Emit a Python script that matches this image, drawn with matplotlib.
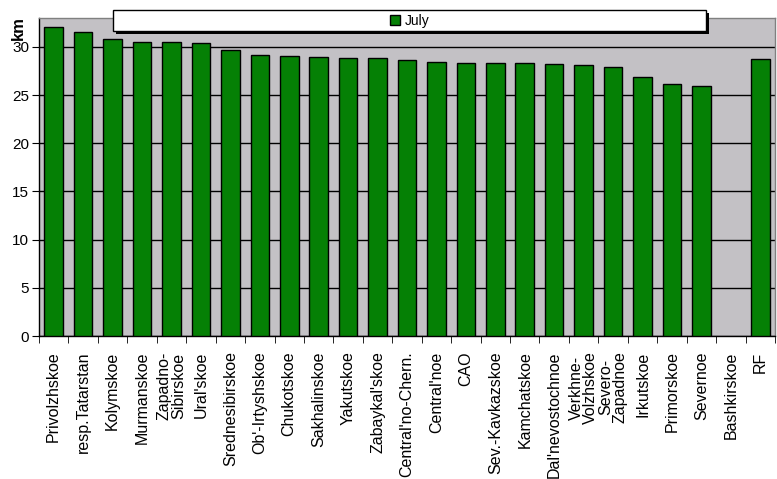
import numpy as np
import matplotlib
matplotlib.use("Agg")
import matplotlib.pyplot as plt
from matplotlib.patches import Rectangle

categories = ["Privolzhskoe", "resp.Tatarstan", "Kolymskoe", "Murmanskoe",
              "Zapadno-\nSibirskoe", "Ural'skoe", "Srednesibirskoe", "Ob'-Irtyshskoe",
              "Chukotskoe", "Sakhalinskoe", "Yakutskoe", "Zabaykal'skoe",
              "Central'no-Chern.", "Central'noe", "CAO", "Sev.-Kavkazskoe",
              "Kamchatskoe", "Dal'nevostochnoe", "Verkhne-\nVolzhskoe", "Severo-\nZapadnoe",
              "Irkutskoe", "Primorskoe", "Severnoe", "Bashkirskoe", "RF"]
july = [32.05, 31.5, 30.8, 30.5, 30.5, 30.4, 29.65, 29.2, 29.1, 29.0, 28.8, 28.8,
        28.6, 28.4, 28.3, 28.3, 28.3, 28.2, 28.1, 27.9, 26.9, 26.2, 25.9, np.nan, 28.7]
yticks = [0, 5, 10, 15, 20, 25, 30]

plt.rcParams['font.family'] = ['Liberation Sans', 'DejaVu Sans']

fig = plt.figure(figsize=(7.77, 4.79), dpi=100, facecolor='white')
ax = fig.add_axes([39/777, 1-336/479, (775-39)/777, (336-18)/479])
ax.set_facecolor('#c3c1c5')

x = np.arange(len(categories))
bars = ax.bar(x, july, width=0.63, color='#058005', edgecolor='black', linewidth=1.0,
              zorder=3, label='July')

ax.set_xlim(-0.5, len(categories) - 0.5)
ax.set_ylim(0, 33)
ax.set_yticks(yticks)
ax.set_yticklabels([str(v) for v in yticks], fontsize=11)
ax.yaxis.grid(True, color='black', linewidth=1.0, zorder=1)
ax.set_axisbelow(True)

ax.set_xticks(x)
ax.set_xticklabels(categories, rotation=90, fontsize=11.5, va='top', ha='center',
                   linespacing=0.95)
ax.tick_params(axis='x', length=0, pad=11)
ax.set_xticks(np.arange(len(categories) + 1) - 0.5, minor=True)
ax.tick_params(axis='x', which='minor', length=5, direction='out', color='black')
ax.tick_params(axis='y', length=5, direction='out', color='black', pad=2)

for s in ['left', 'bottom']:
    ax.spines[s].set_color('black')
    ax.spines[s].set_linewidth(1.0)
for s in ['top', 'right']:
    ax.spines[s].set_color('#808080')
    ax.spines[s].set_linewidth(1.0)

fig.text(18/777, 1-28/479, 'km', rotation=90, fontsize=12, fontweight='bold',
         ha='center', va='center')

# legend box with shadow
lx0, lx1, ly0, ly1 = 113/777, 706/777, 1-31/479, 1-10/479
fig.patches.append(Rectangle((lx0 + 3/777, ly0 - 3/479), lx1 - lx0, ly1 - ly0,
                             transform=fig.transFigure, facecolor='black',
                             edgecolor='none', zorder=5))
fig.patches.append(Rectangle((lx0, ly0), lx1 - lx0, ly1 - ly0,
                             transform=fig.transFigure, facecolor='white',
                             edgecolor='black', linewidth=1.0, zorder=6))
leg = fig.legend(handles=[bars], labels=['July'], loc='center',
                 bbox_to_anchor=(410/777, (ly0 + ly1) / 2), frameon=False,
                 fontsize=10, handlelength=0.7, handleheight=0.7, handletextpad=0.4,
                 borderpad=0)
leg.set_zorder(7)

fig.savefig('out.png', dpi=100, facecolor='white')
